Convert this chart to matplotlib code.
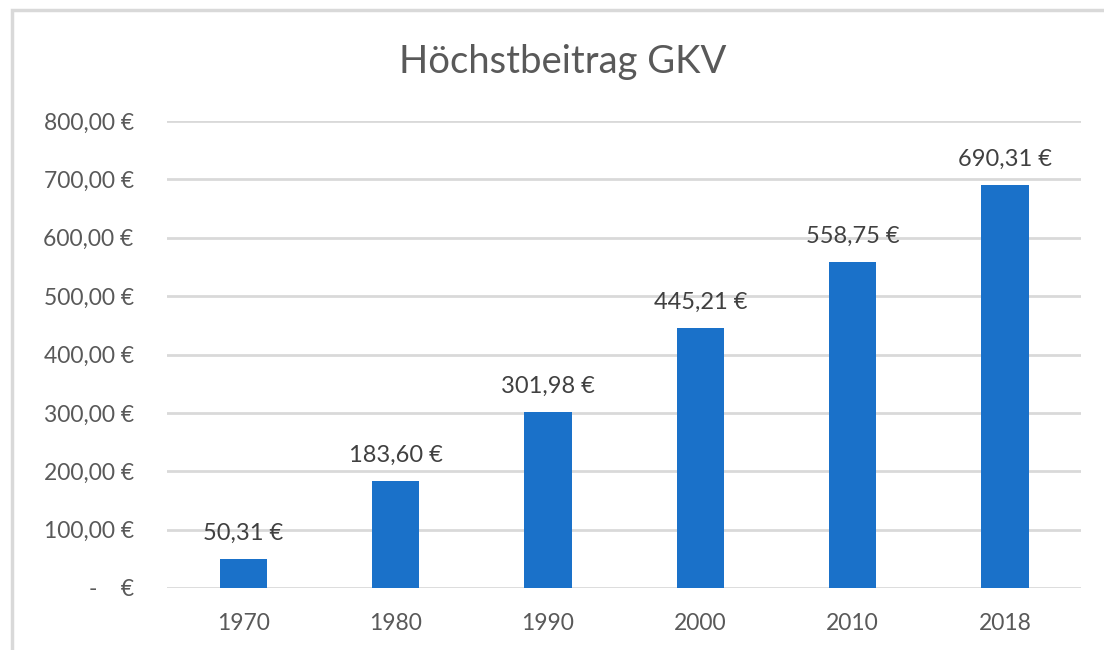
import matplotlib.pyplot as plt
from matplotlib.patches import Rectangle
from matplotlib.ticker import FuncFormatter

plt.rcParams['font.family'] = ['Lato', 'DejaVu Sans']

years = ['1970', '1980', '1990', '2000', '2010', '2018']
beitrag = [50.31, 183.60, 301.98, 445.21, 558.75, 690.31]
y_ticks = [0, 100, 200, 300, 400, 500, 600, 700, 800]


def euro(v, pos=None):
    if v == 0:
        return '-    €'
    s = f"{v:,.2f}"
    s = s.replace(',', 'X').replace('.', ',').replace('X', '.')
    return f"{s} €"


fig = plt.figure(figsize=(11.04, 6.5), dpi=100)
ax = fig.add_axes([0.1513, 0.0954, 0.828, 0.7184])

# outer chart border (only left/top visible in the crop)
fig.patches.append(Rectangle((12 / 1104, -0.1), 1.2, 1.1 - 10 / 650,
                             transform=fig.transFigure, fill=False,
                             edgecolor='#d9d9d9', linewidth=2.5))

x = range(len(years))
ax.bar(x, beitrag, width=0.31, color='#1a71c9', zorder=3)

for i, v in zip(x, beitrag):
    ax.text(i, v + 26, euro(v), ha='center', va='bottom',
            fontsize=17, color='#404040')

ax.set_xlim(-0.5, len(years) - 0.5)
ax.set_ylim(0, 800)
ax.set_yticks(y_ticks)
ax.yaxis.set_major_formatter(FuncFormatter(euro))
ax.set_xticks(list(x))
ax.set_xticklabels(years)
ax.grid(axis='y', color='#d9d9d9', linewidth=2, zorder=0)
ax.tick_params(axis='both', length=0, labelsize=16.5, labelcolor='#595959')
ax.tick_params(axis='y', pad=24)
ax.tick_params(axis='x', pad=18)
for sp in ax.spines.values():
    sp.set_visible(False)

fig.text(0.51, 0.905, 'Höchstbeitrag GKV', ha='center', va='center',
         fontsize=27.5, color='#595959')

fig.savefig('out.png', dpi=100)
